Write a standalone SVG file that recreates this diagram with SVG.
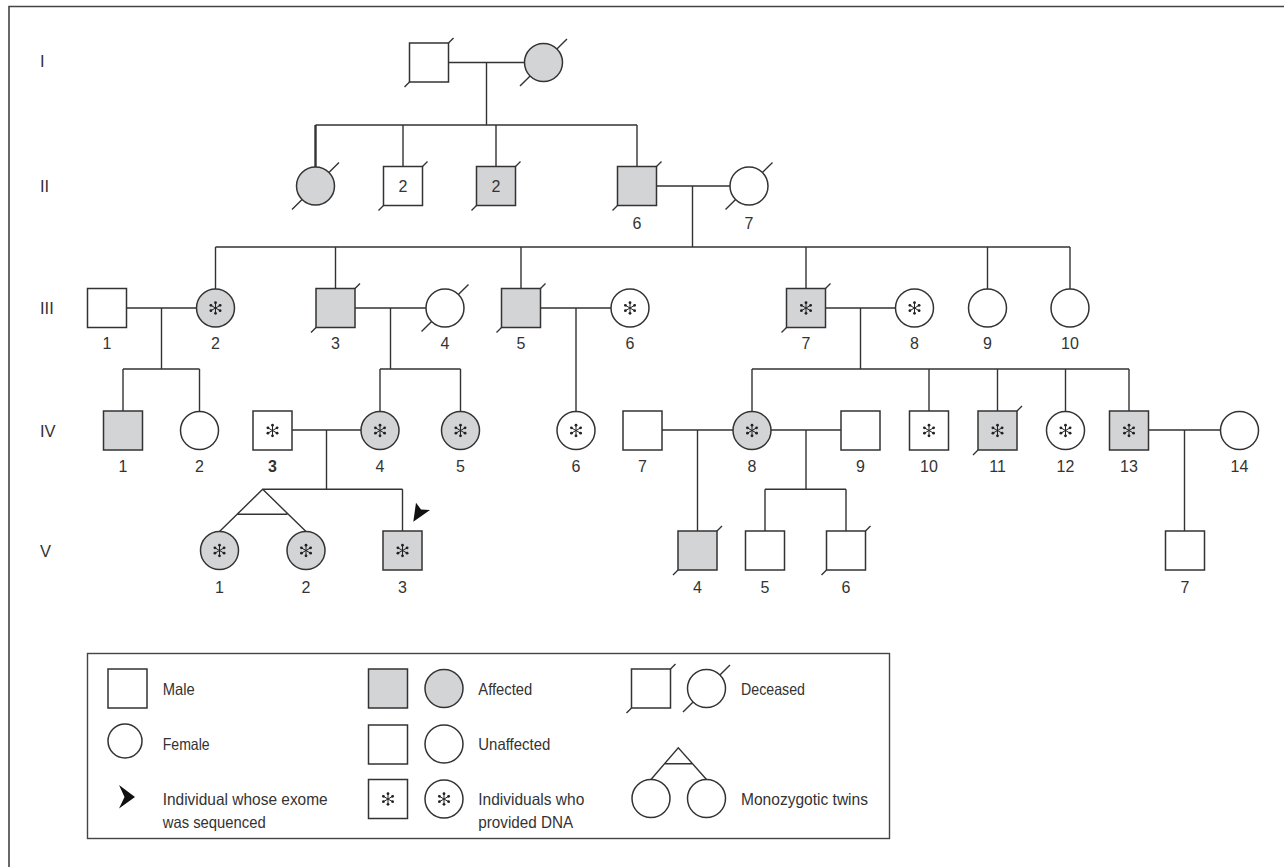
<svg xmlns="http://www.w3.org/2000/svg" width="1284" height="867" viewBox="0 0 1284 867">
<style>
.m{fill:#fff;stroke:#333;stroke-width:1.5}
.a{fill:#d3d4d6}
.ln{fill:none;stroke:#333;stroke-width:1.4}
.tk{fill:none;stroke:#333;stroke-width:1.4}
.t{font-family:"Liberation Sans",Arial,sans-serif;font-size:16px;fill:#333;text-anchor:middle}
.r{font-family:"Liberation Sans",Arial,sans-serif;font-size:16.5px;fill:#333}
.lg{font-family:"Liberation Sans",Arial,sans-serif;font-size:16.5px;fill:#333}
</style>
<defs>
<g id="ast">
<path d="M0,-6V6M-5.2,-3L5.2,3M-5.2,3L5.2,-3" stroke="#222" stroke-width="1"/>
<circle cx="0" cy="-5.3" r="1.4" fill="#222"/>
<circle cx="0" cy="5.3" r="1.4" fill="#222"/>
<circle cx="-4.6" cy="-2.65" r="1.4" fill="#222"/>
<circle cx="4.6" cy="-2.65" r="1.4" fill="#222"/>
<circle cx="-4.6" cy="2.65" r="1.4" fill="#222"/>
<circle cx="4.6" cy="2.65" r="1.4" fill="#222"/>
</g>
</defs>
<rect width="1284" height="867" fill="#fff"/>
<path d="M9,867V6.5H1284" fill="none" stroke="#444" stroke-width="1.6"/>

<g id="gen-labels">
<text class="r" x="40" y="67">I</text>
<text class="r" x="40" y="192">II</text>
<text class="r" x="40" y="314">III</text>
<text class="r" x="40" y="436.5">IV</text>
<text class="r" x="40" y="557">V</text>
</g>

<g id="connectors">
<path class="ln" d="M448.5,62.5H524.5M486.5,62.5V125M315.5,125H637M403,125V166.5M496,125V166.5M637,125V166.5"/>
<path d="M315.5,125V167" stroke="#333" stroke-width="2.4"/>
<path class="ln" d="M656.5,186H730M692.5,186V247M215.5,247H1070M215.5,247V289M335.5,247V288.5M521,247V288.5M806,247V288.5M987.5,247V289M1070,247V289"/>
<path class="ln" d="M126.5,308H196.5M161.5,308V369M123,369H199.5M123,369V411M199.5,369V411.5"/>
<path class="ln" d="M355,308H426M390.5,308V369M380,369H460.5M380,369V411.5M460.5,369V411.5"/>
<path class="ln" d="M540.5,308H611M576,308V411.5"/>
<path class="ln" d="M825.5,308H895.5M860.5,308V369M752,369H1129M752,369V411.5M929,369V411M997.5,369V411M1065.5,369V411.5M1129,369V411"/>
<path class="ln" d="M292,430H361M326.5,430V489.3M262.7,489.3H402.5M402.5,489.3V531M219.5,531.5L262.7,489.3L306,531.5M237.7,514.3H287.3"/>
<path class="ln" d="M662,430H733M697.5,430V531"/>
<path class="ln" d="M771,430H841M806,430V489.3M765,489.3H846M765,489.3V531M846,489.3V531"/>
<path class="ln" d="M1148.5,430H1220.5M1184.5,430V531"/>
</g>

<!-- Generation I -->
<g id="I-1"><rect class="m" x="409.5" y="43" width="39" height="39"/><path class="tk" d="M404.5,87L409.5,82M448.5,43L453.5,38"/></g>
<g id="I-2"><circle class="m a" cx="543.5" cy="62.5" r="19"/><path class="tk" d="M530.1,75.9L520,86M556.9,49.1L567,39"/></g>

<!-- Generation II -->
<g id="II-1"><circle class="m a" cx="315.5" cy="186" r="19"/><path class="tk" d="M302.1,199.4L292,209.5M328.9,172.6L339,162.5"/></g>
<g id="II-2"><rect class="m" x="383.5" y="166.5" width="39" height="39"/><path class="tk" d="M378.5,210.5L383.5,205.5M422.5,166.5L427.5,161.5"/><text class="t" x="403" y="192">2</text></g>
<g id="II-3"><rect class="m a" x="476.5" y="166.5" width="39" height="39"/><path class="tk" d="M471.5,210.5L476.5,205.5M515.5,166.5L520.5,161.5"/><text class="t" x="496" y="192">2</text></g>
<g id="II-6"><rect class="m a" x="617.5" y="166.5" width="39" height="39"/><path class="tk" d="M612.5,210.5L617.5,205.5M656.5,166.5L661.5,161.5"/><text class="t" x="637" y="228.5">6</text></g>
<g id="II-7"><circle class="m" cx="749" cy="186" r="19"/><path class="tk" d="M735.6,199.4L725.5,209.5M762.4,172.6L772.5,162.5"/><text class="t" x="749" y="228.5">7</text></g>

<!-- Generation III -->
<g id="III-1"><rect class="m" x="87.5" y="288.5" width="39" height="39"/><text class="t" x="107" y="349">1</text></g>
<g id="III-2"><circle class="m a" cx="215.5" cy="308" r="19"/><use href="#ast" x="215.5" y="308"/><text class="t" x="215.5" y="349">2</text></g>
<g id="III-3"><rect class="m a" x="316" y="288.5" width="39" height="39"/><path class="tk" d="M311,332.5L316,327.5M355,288.5L360,283.5"/><text class="t" x="335.5" y="349">3</text></g>
<g id="III-4"><circle class="m" cx="445" cy="308" r="19"/><path class="tk" d="M431.6,321.4L421.5,331.5M458.4,294.6L468.5,284.5"/><text class="t" x="445" y="349">4</text></g>
<g id="III-5"><rect class="m a" x="501.5" y="288.5" width="39" height="39"/><path class="tk" d="M496.5,332.5L501.5,327.5M540.5,288.5L545.5,283.5"/><text class="t" x="521" y="349">5</text></g>
<g id="III-6"><circle class="m" cx="630" cy="308" r="19"/><use href="#ast" x="630" y="308"/><text class="t" x="630" y="349">6</text></g>
<g id="III-7"><rect class="m a" x="786.5" y="288.5" width="39" height="39"/><use href="#ast" x="806" y="308"/><path class="tk" d="M781.5,332.5L786.5,327.5M825.5,288.5L830.5,283.5"/><text class="t" x="806" y="349">7</text></g>
<g id="III-8"><circle class="m" cx="914.5" cy="308" r="19"/><use href="#ast" x="914.5" y="308"/><text class="t" x="914.5" y="349">8</text></g>
<g id="III-9"><circle class="m" cx="987.5" cy="308" r="19"/><text class="t" x="987.5" y="349">9</text></g>
<g id="III-10"><circle class="m" cx="1070" cy="308" r="19"/><text class="t" x="1070" y="349">10</text></g>

<!-- Generation IV -->
<g id="IV-1"><rect class="m a" x="103.5" y="411" width="39" height="39"/><text class="t" x="123" y="472">1</text></g>
<g id="IV-2"><circle class="m" cx="199.5" cy="430.5" r="19"/><text class="t" x="199.5" y="472">2</text></g>
<g id="IV-3"><rect class="m" x="253" y="411" width="39" height="39"/><use href="#ast" x="272.5" y="430.5"/><text class="t" x="272.5" y="472" font-weight="bold">3</text></g>
<g id="IV-4"><circle class="m a" cx="380" cy="430.5" r="19"/><use href="#ast" x="380" y="430.5"/><text class="t" x="380" y="472">4</text></g>
<g id="IV-5"><circle class="m a" cx="460.5" cy="430.5" r="19"/><use href="#ast" x="460.5" y="430.5"/><text class="t" x="460.5" y="472">5</text></g>
<g id="IV-6"><circle class="m" cx="576" cy="430.5" r="19"/><use href="#ast" x="576" y="430.5"/><text class="t" x="576" y="472">6</text></g>
<g id="IV-7"><rect class="m" x="623" y="411" width="39" height="39"/><text class="t" x="642.5" y="472">7</text></g>
<g id="IV-8"><circle class="m a" cx="752" cy="430.5" r="19"/><use href="#ast" x="752" y="430.5"/><text class="t" x="752" y="472">8</text></g>
<g id="IV-9"><rect class="m" x="841" y="411" width="39" height="39"/><text class="t" x="860.5" y="472">9</text></g>
<g id="IV-10"><rect class="m" x="909.5" y="411" width="39" height="39"/><use href="#ast" x="929" y="430.5"/><text class="t" x="929" y="472">10</text></g>
<g id="IV-11"><rect class="m a" x="978" y="411" width="39" height="39"/><use href="#ast" x="997.5" y="430.5"/><path class="tk" d="M973,455L978,450M1017,411L1022,406"/><text class="t" x="997.5" y="472">11</text></g>
<g id="IV-12"><circle class="m" cx="1065.5" cy="430.5" r="19"/><use href="#ast" x="1065.5" y="430.5"/><text class="t" x="1065.5" y="472">12</text></g>
<g id="IV-13"><rect class="m a" x="1109.5" y="411" width="39" height="39"/><use href="#ast" x="1129" y="430.5"/><text class="t" x="1129" y="472">13</text></g>
<g id="IV-14"><circle class="m" cx="1239.5" cy="430.5" r="19"/><text class="t" x="1239.5" y="472">14</text></g>

<!-- Generation V -->
<g id="V-1"><circle class="m a" cx="219.5" cy="550.5" r="19"/><use href="#ast" x="219.5" y="550.5"/><text class="t" x="219.5" y="593">1</text></g>
<g id="V-2"><circle class="m a" cx="306" cy="550.5" r="19"/><use href="#ast" x="306" y="550.5"/><text class="t" x="306" y="593">2</text></g>
<g id="V-3"><rect class="m a" x="383" y="531" width="39" height="39"/><use href="#ast" x="402.5" y="550.5"/><text class="t" x="402.5" y="593">3</text><polygon points="413.3,521.7 416,502.7 421,509.5 430,510" fill="#111"/></g>
<g id="V-4"><rect class="m a" x="678" y="531" width="39" height="39"/><path class="tk" d="M673,575L678,570M717,531L722,526"/><text class="t" x="697.5" y="593">4</text></g>
<g id="V-5"><rect class="m" x="745.5" y="531" width="39" height="39"/><text class="t" x="765" y="593">5</text></g>
<g id="V-6"><rect class="m" x="826.5" y="531" width="39" height="39"/><path class="tk" d="M821.5,575L826.5,570M865.5,531L870.5,526"/><text class="t" x="846" y="593">6</text></g>
<g id="V-7"><rect class="m" x="1165.5" y="531" width="39" height="39"/><text class="t" x="1185" y="593">7</text></g>

<!-- Legend -->
<g id="legend">
<rect x="87.5" y="653.5" width="802" height="185" fill="none" stroke="#444" stroke-width="1.4"/>
<rect class="m" x="108" y="669" width="39" height="39"/>
<text class="lg" x="162.7" y="695" textLength="32" lengthAdjust="spacingAndGlyphs">Male</text>
<circle class="m" cx="125" cy="741" r="17"/>
<text class="lg" x="162.7" y="750" textLength="47" lengthAdjust="spacingAndGlyphs">Female</text>
<polygon points="119,785 135,797 119,808.5 124.5,797" fill="#111"/>
<text class="lg" x="162.7" y="805" textLength="165" lengthAdjust="spacingAndGlyphs">Individual whose exome</text>
<text class="lg" x="162.7" y="828" textLength="103" lengthAdjust="spacingAndGlyphs">was sequenced</text>

<rect class="m a" x="368.5" y="669" width="39" height="39"/>
<circle class="m a" cx="444" cy="688.5" r="19"/>
<text class="lg" x="478.3" y="695" textLength="54" lengthAdjust="spacingAndGlyphs">Affected</text>
<rect class="m" x="368.5" y="725" width="39" height="39"/>
<circle class="m" cx="444" cy="744" r="19"/>
<text class="lg" x="478.3" y="750" textLength="72" lengthAdjust="spacingAndGlyphs">Unaffected</text>
<rect class="m" x="368.5" y="779.5" width="39" height="39"/>
<use href="#ast" x="388" y="799"/>
<circle class="m" cx="444" cy="799" r="19"/>
<use href="#ast" x="444" y="799"/>
<text class="lg" x="478.3" y="805" textLength="106" lengthAdjust="spacingAndGlyphs">Individuals who</text>
<text class="lg" x="478.3" y="828" textLength="95" lengthAdjust="spacingAndGlyphs">provided DNA</text>

<rect class="m" x="631.5" y="669" width="39" height="39"/>
<path class="tk" d="M626.5,713L631.5,708M670.5,669L675.5,664"/>
<circle class="m" cx="706.5" cy="688.5" r="19"/>
<path class="tk" d="M693.1,701.9L683,712M719.9,675.1L730,665"/>
<text class="lg" x="741" y="695" textLength="64" lengthAdjust="spacingAndGlyphs">Deceased</text>
<path class="ln" d="M651,779.5L678.3,747.7L706.5,779.5M665,763.7H692.3"/>
<circle class="m" cx="651" cy="798.5" r="19"/>
<circle class="m" cx="706.5" cy="798.5" r="19"/>
<text class="lg" x="741" y="805" textLength="127" lengthAdjust="spacingAndGlyphs">Monozygotic twins</text>
</g>
</svg>
